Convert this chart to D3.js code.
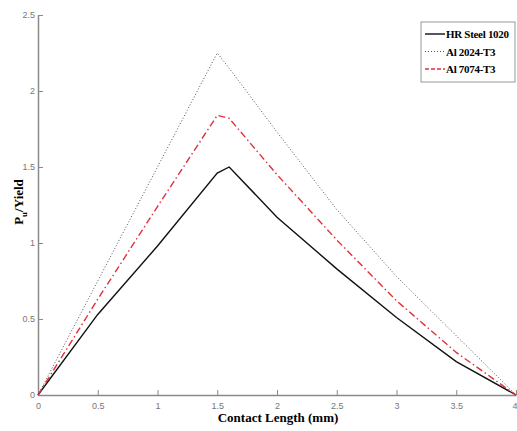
<!DOCTYPE html>
<html lang="en">
<head>
  <meta charset="UTF-8">
  <title>Pu/Yield vs Contact Length</title>
  <style>
    body { margin: 0; background: #fff; }
    #chart { width: 517px; height: 431px; }
    .tick text { font-family: "Liberation Sans Narrow", "Liberation Sans", Arial, sans-serif; font-size: 9px; fill: #777; }
    .tick line, .domain { stroke: #8a8a8a; }
  </style>
</head>
<body>
  <div id="chart"></div>
  <script src="https://d3js.org/d3.v7.min.js"></script>
  <script>
    // values
    const contactLength = [0, 0.5, 1, 1.5, 1.6, 2, 2.5, 3, 3.5, 4];
    const steel1020 = [0, 0.53, 0.98, 1.46, 1.5, 1.17, 0.83, 0.51, 0.22, 0];
    const al2024 = [0, 0.75, 1.5, 2.25, 2.15, 1.73, 1.22, 0.78, 0.39, 0];
    const al7074 = [0, 0.63, 1.24, 1.84, 1.82, 1.45, 1.02, 0.62, 0.28, 0];
    const xTicks = [0, 0.5, 1, 1.5, 2, 2.5, 3, 3.5, 4];
    const yTicks = [0, 0.5, 1, 1.5, 2, 2.5];

    const series = [
      { name: 'HR Steel 1020', values: steel1020, color: '#111', dash: null, legendDash: null, width: 1.4 },
      { name: 'Al 2024-T3', values: al2024, color: '#555', dash: '1,2', legendDash: '1,2', width: 1 },
      { name: 'Al 7074-T3', values: al7074, color: '#e0303a', dash: '7,3,1.5,3', legendDash: '4,2', width: 1.4 }
    ];

    const width = 517, height = 431;
    const margin = { top: 15, right: 1, bottom: 36, left: 38 };

    const svg = d3.select('#chart').append('svg')
      .attr('width', width)
      .attr('height', height);

    const x = d3.scaleLinear().domain([0, 4]).range([margin.left, width - margin.right]);
    const y = d3.scaleLinear().domain([0, 2.5]).range([height - margin.bottom, margin.top]);

    // axes, ticks pointing inwards
    svg.append('g')
      .attr('transform', `translate(0,${height - margin.bottom})`)
      .call(d3.axisBottom(x).tickValues(xTicks).tickSizeInner(-5).tickSizeOuter(0).tickPadding(8).tickFormat(d3.format('')))
      .call(g => g.select('.domain').attr('stroke-width', 1.5))
      .call(g => g.selectAll('.tick text').filter(d => d === 4).attr('text-anchor', 'end').attr('dx', 1));

    svg.append('g')
      .attr('transform', `translate(${margin.left},0)`)
      .call(d3.axisLeft(y).tickValues(yTicks).tickSizeInner(-5).tickSizeOuter(0).tickPadding(3).tickFormat(d3.format('')))
      .call(g => g.select('.domain').attr('stroke-width', 1.5));

    const line = d3.line()
      .x((d, i) => x(contactLength[i]))
      .y(d => y(d));

    series.forEach(s => {
      svg.append('path')
        .datum(s.values)
        .attr('fill', 'none')
        .attr('stroke', s.color)
        .attr('stroke-width', s.width)
        .attr('stroke-dasharray', s.dash)
        .attr('d', line);
    });

    // legend
    const lg = svg.append('g').attr('transform', 'translate(421,22)');
    lg.append('rect')
      .attr('width', 94).attr('height', 60)
      .attr('fill', '#fff').attr('stroke', '#999').attr('stroke-width', 1);
    series.forEach((s, i) => {
      const yy = 12 + i * 17.5;
      lg.append('line')
        .attr('x1', 4).attr('x2', 24).attr('y1', yy).attr('y2', yy)
        .attr('stroke', s.color).attr('stroke-width', s.width)
        .attr('stroke-dasharray', s.legendDash);
      lg.append('text')
        .attr('x', 25).attr('y', yy + 4)
        .style('font-family', '"Liberation Serif", "Times New Roman", serif')
        .style('font-weight', 'bold')
        .style('font-size', '11px')
        .style('letter-spacing', '-0.3px')
        .text(s.name);
    });

    // axis titles
    svg.append('text')
      .attr('x', 278).attr('y', 422)
      .attr('text-anchor', 'middle')
      .style('font-family', '"Liberation Serif", "Times New Roman", serif')
      .style('font-weight', 'bold')
      .style('font-size', '13px')
      .text('Contact Length (mm)');

    const yl = svg.append('text')
      .attr('transform', 'translate(23,202) rotate(-90)')
      .attr('text-anchor', 'middle')
      .style('font-family', '"Liberation Serif", "Times New Roman", serif')
      .style('font-weight', 'bold')
      .style('font-size', '13px');
    yl.append('tspan').text('P');
    yl.append('tspan').attr('dy', 4).style('font-size', '9px').text('u');
    yl.append('tspan').attr('dy', -4).text('/Yield');
  </script>
</body>
</html>
